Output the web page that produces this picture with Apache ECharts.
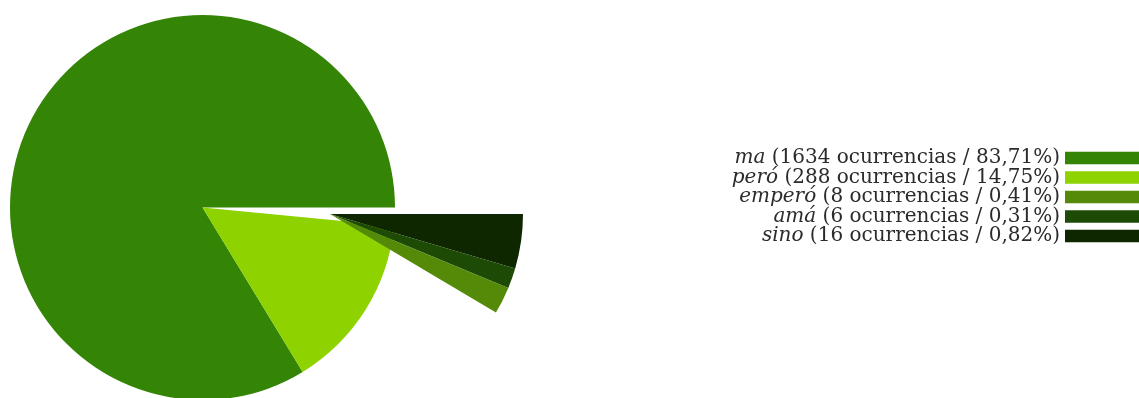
<!DOCTYPE html>
<html>
<head>
<meta charset="utf-8">
<script src="https://cdn.jsdelivr.net/npm/echarts@6/dist/echarts.min.js"></script>
<style>
  html, body { margin: 0; padding: 0; background: #ffffff; }
  #chart { width: 1139px; height: 398px; }
</style>
</head>
<body>
<div id="chart"></div>
<script>
// Occurrences of each conjunction
const words  = ['ma', 'peró', 'emperó', 'amá', 'sino'];
const counts = [1634, 288, 8, 6, 16];
const colors = ['#348506', '#8ed200', '#548a08', '#1d4a04', '#0e2700'];

// Words kept in the main disc; the rest are pulled out and fanned open
const mainWords   = ['ma', 'peró'];
const detailWords = ['sino', 'amá', 'emperó'];

const total = counts.reduce((a, b) => a + b, 0);
const countOf = w => counts[words.indexOf(w)];
const colorOf = w => colors[words.indexOf(w)];
const pctText = w => (countOf(w) / total * 100).toFixed(2).replace('.', ',');

const item = w => ({ name: w, value: countOf(w), itemStyle: { color: colorOf(w) } });
const detailSum = detailWords.reduce((s, w) => s + countOf(w), 0);

const FONT = 'DejaVu Serif';
const FONT_SIZE = 20;
const TEXT_COLOR = '#2b2b2b';

const chart = echarts.init(document.getElementById('chart'), null, { renderer: 'canvas' });

const pieCommon = {
  type: 'pie',
  label: { show: false },
  labelLine: { show: false },
  emphasis: { disabled: true, scale: false },
  silent: true,
  avoidLabelOverlap: false,
  itemStyle: { borderWidth: 0 }
};

chart.setOption({
  backgroundColor: '#ffffff',
  animation: false,
  legend: {
    orient: 'vertical',
    align: 'right',
    right: -6,
    top: 148,
    padding: 0,
    itemGap: -0.5,
    itemWidth: 80,
    itemHeight: 12.5,
    icon: 'rect',
    data: words,
    selectedMode: false,
    formatter: name => `{i|${name}} (${countOf(name)} ocurrencias / ${pctText(name)}%)`,
    textStyle: {
      fontFamily: FONT,
      fontSize: FONT_SIZE,
      color: TEXT_COLOR,
      lineHeight: 20,
      rich: {
        i: { fontFamily: FONT, fontSize: FONT_SIZE, fontStyle: 'italic', color: TEXT_COLOR, lineHeight: 20 }
      }
    }
  },
  series: [
    Object.assign({}, pieCommon, {
      name: 'main',
      center: [202.5, 207.5],
      radius: 192.5,
      startAngle: 0,
      clockwise: false,
      data: mainWords.map(item).concat([
        { name: '', value: detailSum, itemStyle: { color: 'rgba(0,0,0,0)' } }
      ])
    }),
    Object.assign({}, pieCommon, {
      name: 'detail',
      center: [330, 214],
      radius: 193,
      startAngle: 0,
      endAngle: -30.7,
      clockwise: true,
      data: detailWords.map(item)
    })
  ]
});
</script>
</body>
</html>
